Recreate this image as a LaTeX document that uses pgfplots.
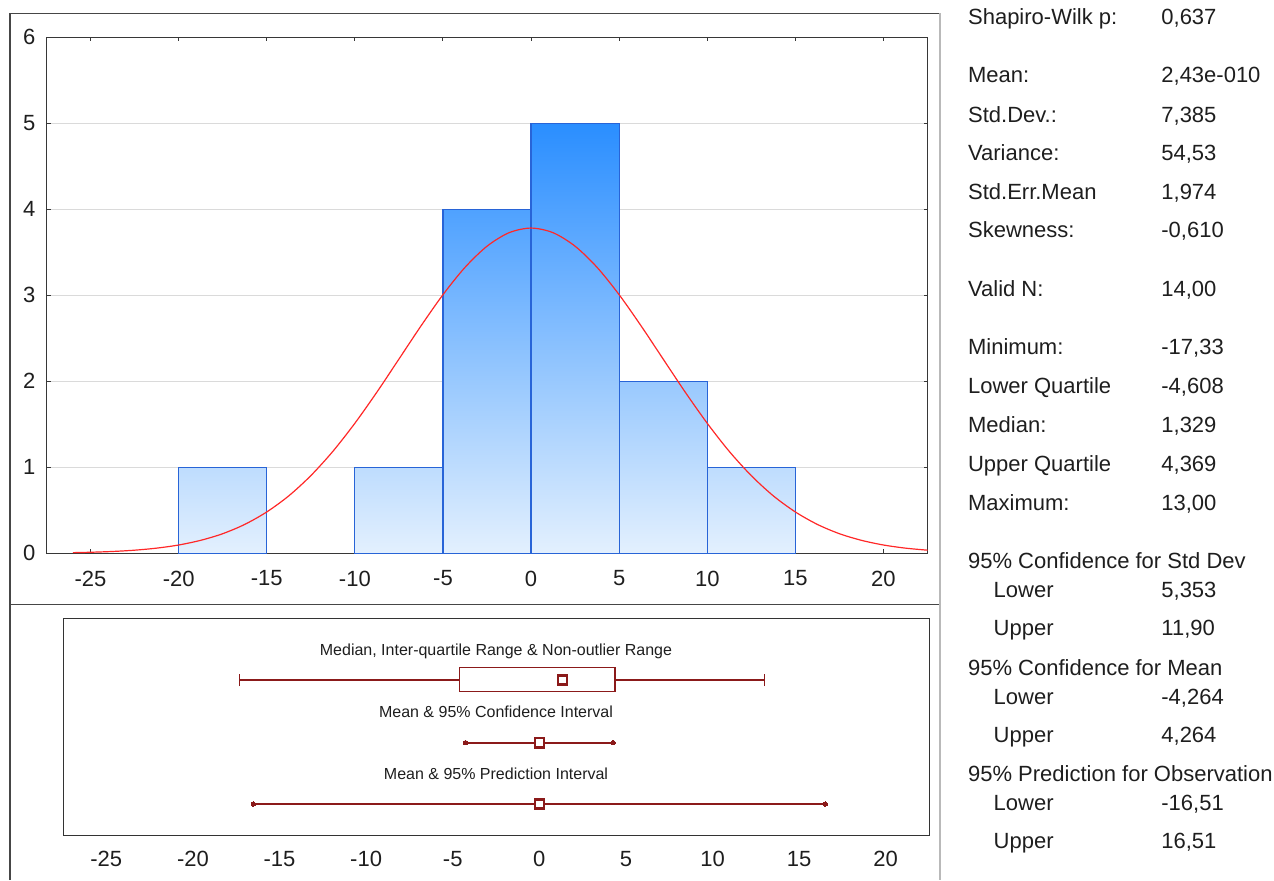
\documentclass[border=0pt]{standalone}
\usepackage{fontspec}
\setmainfont{Liberation Sans}
\usepackage{pgfplots}
\pgfplotsset{compat=1.18}
\definecolor{axgray}{RGB}{55,55,55}
\definecolor{gridgray}{RGB}{218,218,218}
\definecolor{barline}{RGB}{40,100,215}
\definecolor{barlo}{RGB}{227,240,254}
\definecolor{barhi}{RGB}{42,142,255}
\definecolor{curvered}{RGB}{255,40,40}
\definecolor{dred}{RGB}{139,26,26}
\definecolor{framegray}{RGB}{70,70,70}
\definecolor{framelight}{RGB}{185,185,185}
\definecolor{txt}{RGB}{30,30,30}
\newcommand{\stat}[4]{%
  \node[anchor=base west, inner sep=0pt, text=txt, font=\fontsize{11}{13}\selectfont] at (#1,#2) {#3};%
  \node[anchor=base west, inner sep=0pt, text=txt, font=\fontsize{11}{13}\selectfont] at (1161,#2) {#4};}
\begin{document}
\begin{tikzpicture}
\begin{scope}[x=0.5pt,y=-0.5pt]
\useasboundingbox (0,0) rectangle (1274,880);
\draw[framegray, line width=0.6pt] (10,880) -- (10,13.3) -- (940,13.3);
\draw[framegray, line width=0.6pt] (10,604.3) -- (940,604.3);
\draw[framelight, line width=0.9pt] (940,13.3) -- (940,880);
\stat{967.7}{24.6}{Shapiro-Wilk p:}{0,637}
\stat{967.7}{82.9}{Mean:}{2,43e-010}
\stat{967.7}{122.2}{Std.Dev.:}{7,385}
\stat{967.7}{160.6}{Variance:}{54,53}
\stat{967.7}{199.6}{Std.Err.Mean}{1,974}
\stat{967.7}{237.9}{Skewness:}{-0,610}
\stat{967.7}{296.2}{Valid N:}{14,00}
\stat{967.7}{354.6}{Minimum:}{-17,33}
\stat{967.7}{393.6}{Lower Quartile}{-4,608}
\stat{967.7}{432.9}{Median:}{1,329}
\stat{967.7}{471.9}{Upper Quartile}{4,369}
\stat{967.7}{510.6}{Maximum:}{13,00}
\stat{967.7}{568.6}{95\% Confidence for Std Dev}{}
\stat{993.3}{597.2}{Lower}{5,353}
\stat{993.3}{635.6}{Upper}{11,90}
\stat{967.7}{675.6}{95\% Confidence for Mean}{}
\stat{993.3}{704.6}{Lower}{-4,264}
\stat{993.3}{742.9}{Upper}{4,264}
\stat{967.7}{781.2}{95\% Prediction for Observation}{}
\stat{993.3}{810.2}{Lower}{-16,51}
\stat{993.3}{848.9}{Upper}{16,51}
\end{scope}

% ---------- histogram ----------
\begin{axis}[at={(23.25pt,-276.65pt)}, anchor=south west, scale only axis,
  width=440.5pt, height=258pt,
  xmin=-27.5, xmax=22.5, ymin=0, ymax=6,
  xtick={-25,-20,-15,-10,-5,0,5,10,15,20},
  xticklabels={-25,-20,-15,-10,-5,0,5,10,15,20},
  ytick={0,1,2,3,4,5,6}, yticklabels={0,1,2,3,4,5,6},
  xtick pos=both, ytick pos=both, xticklabel pos=lower, yticklabel pos=left,
  tick align=inside, major tick length=2pt,
  ymajorgrids, grid style={draw=gridgray, line width=0.5pt},
  axis line style={draw=axgray, line width=0.6pt},
  tick style={draw=axgray, line width=0.5pt},
  ticklabel style={font=\fontsize{11}{13}\selectfont, text=txt},
  xticklabel style={yshift=-5.2pt},
  yticklabel style={xshift=-2pt},
]
\addplot[draw=barline, line width=0.6pt, bottom color=barlo, top color=barhi!20!barlo] coordinates {(-20,0) (-20,1) (-15,1) (-15,0)} \closedcycle;
\addplot[draw=barline, line width=0.6pt, bottom color=barlo, top color=barhi!20!barlo] coordinates {(-10,0) (-10,1) (-5,1) (-5,0)} \closedcycle;
\addplot[draw=barline, line width=0.6pt, bottom color=barlo, top color=barhi!80!barlo] coordinates {(-5,0) (-5,4) (0,4) (0,0)} \closedcycle;
\addplot[draw=barline, line width=0.6pt, bottom color=barlo, top color=barhi] coordinates {(0,0) (0,5) (5,5) (5,0)} \closedcycle;
\addplot[draw=barline, line width=0.6pt, bottom color=barlo, top color=barhi!40!barlo] coordinates {(5,0) (5,2) (10,2) (10,0)} \closedcycle;
\addplot[draw=barline, line width=0.6pt, bottom color=barlo, top color=barhi!20!barlo] coordinates {(10,0) (10,1) (15,1) (15,0)} \closedcycle;
\addplot[curvered, line width=0.6pt, smooth, no marks] coordinates {
(-26,0.0078) (-25,0.0123) (-23.75,0.0214) (-22.5,0.0364) (-21.25,0.0602)
(-20,0.0966) (-18.75,0.151) (-17.5,0.228) (-16.25,0.336) (-15,0.481)
(-13.75,0.668) (-12.5,0.903) (-11.25,1.185) (-10,1.512) (-8.75,1.874)
(-7.5,2.258) (-6.25,2.643) (-5,3.007) (-3.75,3.3245) (-2.5,3.571)
(-1.25,3.728) (0,3.782) (1.25,3.728) (2.5,3.571) (3.75,3.3245)
(5,3.007) (6.25,2.643) (7.5,2.258) (8.75,1.874) (10,1.512)
(11.25,1.185) (12.5,0.903) (13.75,0.668) (15,0.481) (16.25,0.336)
(17.5,0.228) (18.75,0.151) (20,0.0966) (21.25,0.0602) (22.5,0.0364)};
\end{axis}

% ---------- box / interval panel ----------
\begin{axis}[at={(31.5pt,-417.5pt)}, anchor=south west, scale only axis,
  width=433pt, height=108.5pt,
  xmin=-27.5, xmax=22.5, ymin=0, ymax=217,
  xtick={-25,-20,-15,-10,-5,0,5,10,15,20},
  xticklabels={-25,-20,-15,-10,-5,0,5,10,15,20},
  ytick=\empty, major tick length=0pt, tick style={draw=none},
  axis line style={draw=black!80, line width=0.5pt},
  ticklabel style={font=\fontsize{11}{13}\selectfont, text=txt},
  xticklabel style={yshift=-4.7pt},
  clip=false,
]
\addplot[dred, line width=0.6pt, no marks] coordinates {(-17.33,155) (-4.608,155)};
\addplot[dred, line width=0.6pt, no marks] coordinates {(4.369,155) (13.00,155)};
\addplot[dred, line width=0.6pt, no marks] coordinates {(-17.33,149) (-17.33,161)};
\addplot[dred, line width=0.6pt, no marks] coordinates {(13.00,149) (13.00,161)};
\addplot[dred, line width=0.6pt, no marks, line join=miter] coordinates {(-4.608,143.3) (4.369,143.3) (4.369,167.7) (-4.608,167.7) (-4.608,143.3)};
\addplot[only marks, mark=square*, mark size=2.3pt, mark options={fill=white, draw=dred, line width=1.2pt}] coordinates {(1.329,155)};
\addplot[dred, line width=1.2pt, mark=*, mark size=1.1pt, mark options={fill=dred, draw=dred, line width=0pt}] coordinates {(-4.264,92.3) (4.264,92.3)};
\addplot[only marks, mark=square*, mark size=2.3pt, mark options={fill=white, draw=dred, line width=1.2pt}] coordinates {(0,92.3)};
\addplot[dred, line width=1.2pt, mark=*, mark size=1.1pt, mark options={fill=dred, draw=dred, line width=0pt}] coordinates {(-16.51,31) (16.51,31)};
\addplot[only marks, mark=square*, mark size=2.3pt, mark options={fill=white, draw=dred, line width=1.2pt}] coordinates {(0,31)};
\node[anchor=base, inner sep=0pt, text=txt, font=\fontsize{8}{10}\selectfont] at (axis cs:-2.5,180) {Median, Inter-quartile Range \& Non-outlier Range};
\node[anchor=base, inner sep=0pt, text=txt, font=\fontsize{8}{10}\selectfont] at (axis cs:-2.5,117.7) {Mean \& 95\% Confidence Interval};
\node[anchor=base, inner sep=0pt, text=txt, font=\fontsize{8}{10}\selectfont] at (axis cs:-2.5,56) {Mean \& 95\% Prediction Interval};
\end{axis}
\end{tikzpicture}
\end{document}
